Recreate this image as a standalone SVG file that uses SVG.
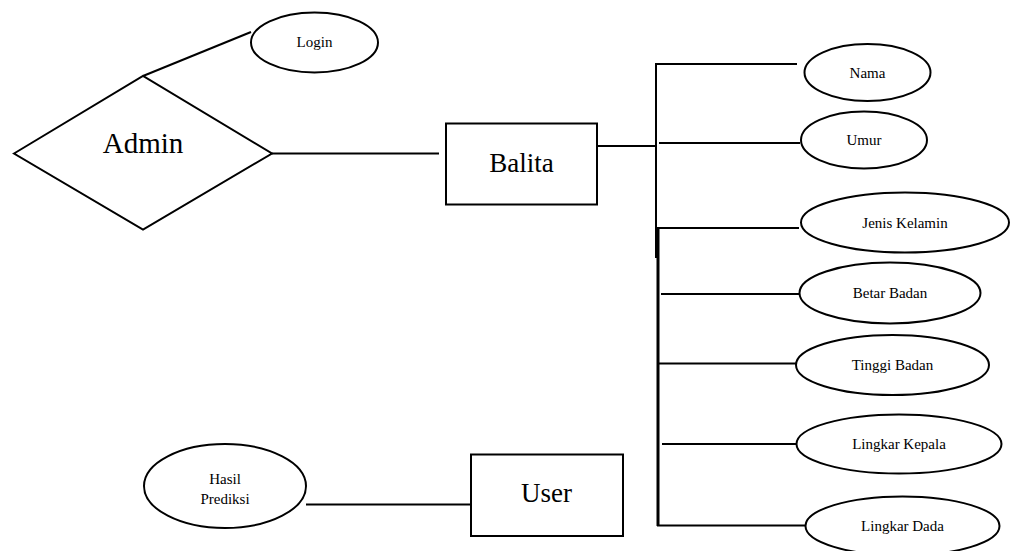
<svg xmlns="http://www.w3.org/2000/svg" width="1016" height="551" viewBox="0 0 1016 551">
  <style>
    .shape { fill: #ffffff; stroke: #000000; stroke-width: 2; }
    .link { fill: none; stroke: #000000; stroke-width: 2; }
    .bold { stroke-width: 3; }
    .big { font-family: "Liberation Serif", "Times New Roman", serif; font-size: 27px; fill: #000000; text-anchor: middle; }
    .title { font-size: 29px; }
    .small { font-family: "Liberation Serif", "Times New Roman", serif; font-size: 15px; fill: #000000; text-anchor: middle; }
  </style>
  <rect x="0" y="0" width="1016" height="551" fill="#ffffff"/>

  <!-- connectors -->
  <g id="connectors">
    <line class="link" x1="143" y1="76" x2="251" y2="32"/>
    <line class="link" x1="272" y1="153.5" x2="439" y2="153.5"/>
    <line class="link" x1="597" y1="146" x2="656" y2="146"/>
    <line class="link" x1="656" y1="64" x2="656" y2="258"/>
    <line class="link" x1="655" y1="64" x2="797" y2="64"/>
    <line class="link" x1="659" y1="143" x2="800" y2="143"/>
    <line class="link bold" x1="658" y1="228" x2="658" y2="526"/>
    <line class="link" x1="657" y1="228" x2="799" y2="228"/>
    <line class="link" x1="661" y1="294" x2="800" y2="294"/>
    <line class="link" x1="658" y1="363.5" x2="797" y2="363.5"/>
    <line class="link" x1="662" y1="444" x2="802" y2="444"/>
    <line class="link" x1="657" y1="525.5" x2="806" y2="525.5"/>
    <line class="link" x1="306" y1="504.5" x2="471" y2="504.5"/>
  </g>

  <g id="admin">
    <polygon class="shape" points="14,153.5 143,76 272,153.5 143,229.5"/>
    <text class="big title" x="143" y="153">Admin</text>
  </g>

  <g id="login">
    <ellipse class="shape" cx="314.5" cy="42.5" rx="63.5" ry="30"/>
    <text class="small" x="314.5" y="47">Login</text>
  </g>

  <g id="balita">
    <rect class="shape" x="446" y="123.5" width="151" height="81"/>
    <text class="big" x="521.5" y="171.5">Balita</text>
  </g>

  <g id="nama">
    <ellipse class="shape" cx="867.5" cy="72.5" rx="63" ry="28.5"/>
    <text class="small" x="867.5" y="77.5">Nama</text>
  </g>

  <g id="umur">
    <ellipse class="shape" cx="864" cy="140" rx="63" ry="28.5"/>
    <text class="small" x="864" y="145">Umur</text>
  </g>

  <g id="jenis-kelamin">
    <ellipse class="shape" cx="905" cy="222.5" rx="104" ry="30"/>
    <text class="small" x="905" y="227.5">Jenis Kelamin</text>
  </g>

  <g id="betar-badan">
    <ellipse class="shape" cx="890" cy="293" rx="90.5" ry="30.5"/>
    <text class="small" x="890" y="298">Betar Badan</text>
  </g>

  <g id="tinggi-badan">
    <ellipse class="shape" cx="892.5" cy="365" rx="96.5" ry="30"/>
    <text class="small" x="892.5" y="370">Tinggi Badan</text>
  </g>

  <g id="lingkar-kepala">
    <ellipse class="shape" cx="899" cy="444" rx="102.5" ry="29.5"/>
    <text class="small" x="899" y="449">Lingkar Kepala</text>
  </g>

  <g id="lingkar-dada">
    <ellipse class="shape" cx="902.5" cy="526" rx="97" ry="29.5"/>
    <text class="small" x="902.5" y="531">Lingkar Dada</text>
  </g>

  <g id="hasil-prediksi">
    <ellipse class="shape" cx="225" cy="486" rx="81" ry="42"/>
    <text class="small" x="225" y="483.5">Hasil</text>
    <text class="small" x="225" y="503.5">Prediksi</text>
  </g>

  <g id="user">
    <rect class="shape" x="471" y="454.5" width="152" height="81.5"/>
    <text class="big" x="546.5" y="501.5">User</text>
  </g>
</svg>
